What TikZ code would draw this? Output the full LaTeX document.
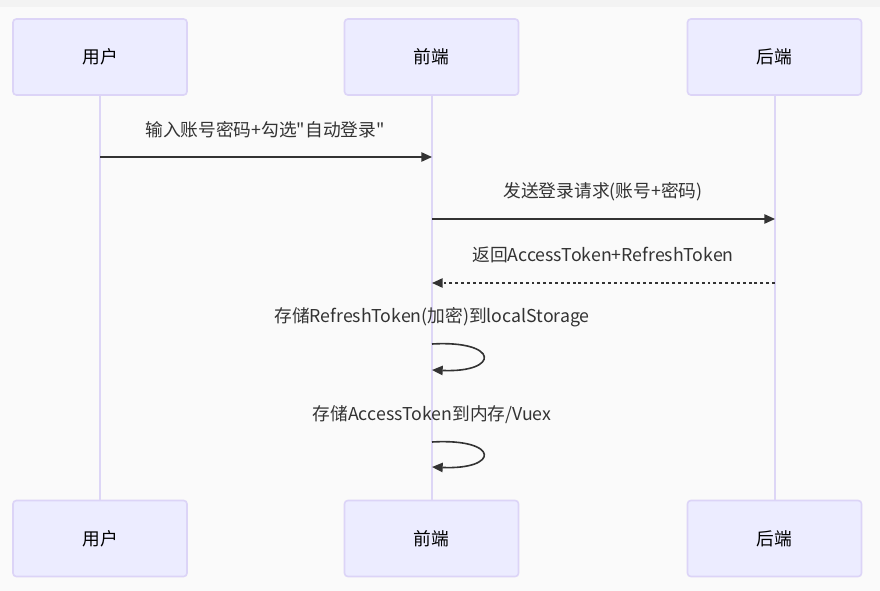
\documentclass[tikz,border=0pt]{standalone}
\usepackage{fontspec}
\setmainfont{Noto Sans CJK SC}
% plain family without TeX ligatures, so that " stays a straight quote
\newfontfamily\cjkplain{Noto Sans CJK SC}
\usetikzlibrary{arrows.meta}
\definecolor{bgcol}{HTML}{FAFAFA}
\definecolor{bandcol}{HTML}{F3F3F3}
\definecolor{actorfill}{HTML}{ECECFF}
\definecolor{actorline}{HTML}{DCD4F7}
\definecolor{lifecol}{HTML}{DDD6F6}
\definecolor{msgcol}{HTML}{333333}
\begin{document}
\begin{tikzpicture}[x=0.75pt,y=-0.75pt,
  actor/.style={draw=actorline,line width=1.2pt,fill=actorfill,rounded corners=2.5pt,
    minimum width=130.5pt,minimum height=57pt,inner sep=0pt,
    font=\cjkplain\fontsize{13.3}{15}\selectfont},
  lifeline/.style={draw=lifecol,line width=1.5pt},
  msg/.style={draw=msgcol,line width=1.2pt,-{Triangle[length=8pt,width=7pt]}},
  reply/.style={msg,dash pattern=on 2.2pt off 2.2pt},
  lbl/.style={text=msgcol,font=\cjkplain\fontsize{13.3}{15}\selectfont,inner sep=0pt}]
  % page background
  \fill[bgcol] (0,0) rectangle (880,591);
  \fill[bandcol] (0,0) rectangle (880,7);
  \useasboundingbox (0,0) rectangle (880,591);

  % participants, top and bottom
  \node[actor] (uT) at (100,57) {用户};
  \node[actor] (fT) at (431.5,57) {前端};
  \node[actor] (bT) at (774.5,57) {后端};
  \node[actor] (uB) at (100,538.5) {用户};
  \node[actor] (fB) at (431.5,538.5) {前端};
  \node[actor] (bB) at (774.5,538.5) {后端};

  % lifelines
  \draw[lifeline] (uT.south) -- (uB.north);
  \draw[lifeline] (fT.south) -- (fB.north);
  \draw[lifeline] (bT.south) -- (bB.north);

  % anchor points on the lifelines
  \coordinate (u1) at (100,157);
  \coordinate (f1) at (432,157);
  \coordinate (f2) at (432,219);
  \coordinate (b2) at (775,219);
  \coordinate (b3) at (775,283);
  \coordinate (f3) at (432,283);
  \coordinate (f4a) at (432,344);
  \coordinate (f4b) at (432,370);
  \coordinate (f5a) at (432,442);
  \coordinate (f5b) at (432,467);

  % messages
  \node[lbl] (t1) at (265,130) {输入账号密码+勾选"自动登录"};
  \draw[msg] (u1) -- (f1);
  \node[lbl] (t2) at (603,191.5) {发送登录请求(账号+密码)};
  \draw[msg] (f2) -- (b2);
  \node[lbl] (t3) at (603,255) {返回AccessToken+RefreshToken};
  \draw[reply] (b3) -- (f3);
  \node[lbl] (t4) at (432,317.5) {存储RefreshToken(加密)到localStorage};
  \draw[msg] (f4a) .. controls (500,340) and (500,373) .. (f4b);
  \node[lbl] (t5) at (432,414.5) {存储AccessToken到内存/Vuex};
  \draw[msg] (f5a) .. controls (500,438) and (500,470) .. (f5b);
\end{tikzpicture}
\end{document}
